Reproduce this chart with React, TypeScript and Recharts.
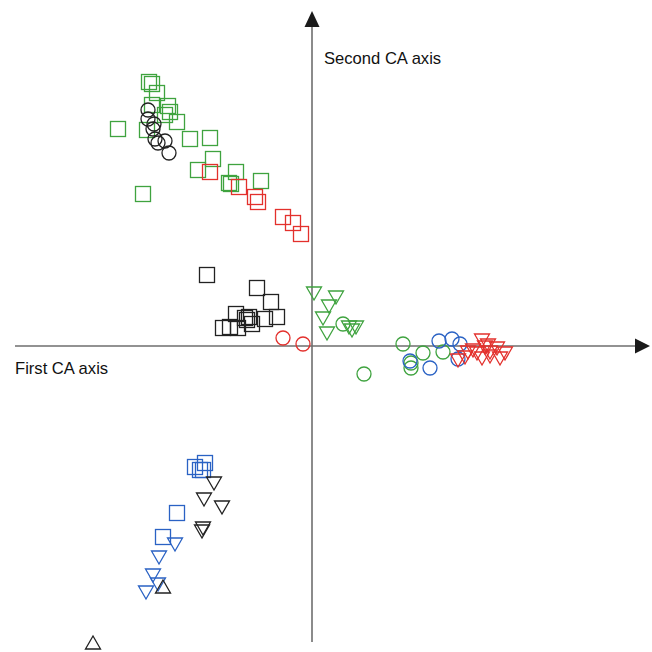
import { ReferenceDot, ReferenceLine, Scatter, ScatterChart, XAxis, YAxis } from 'recharts'

type Pt = [number, number]

// CA scores (first axis, second axis)
const greenSquares: Pt[] = [
  [-1.94, 2.17], [-1.69, 1.52], [-1.63, 2.64], [-1.6, 2.62], [-1.55, 2.53], [-1.6, 2.41],
  [-1.44, 2.4], [-1.47, 2.31], [-1.42, 2.34], [-1.35, 2.24], [-1.65, 2.16], [-1.22, 2.07],
  [-1.02, 2.08], [-0.99, 1.87], [-1.14, 1.76], [-0.76, 1.74], [-0.83, 1.63], [-0.81, 1.62],
  [-0.51, 1.65]
]
const redSquares: Pt[] = [
  [-1.02, 1.74], [-0.73, 1.59], [-0.57, 1.49], [-0.54, 1.44], [-0.29, 1.29], [-0.19, 1.23], [-0.11, 1.12]
]
const blackCircles: Pt[] = [
  [-1.64, 2.36], [-1.64, 2.27], [-1.58, 2.22], [-1.59, 2.17], [-1.57, 2.07], [-1.54, 2.03],
  [-1.47, 2.05], [-1.43, 1.93]
]
const blackSquares: Pt[] = [
  [-1.05, 0.71], [-0.55, 0.58], [-0.41, 0.44], [-0.76, 0.32], [-0.35, 0.29], [-0.63, 0.29],
  [-0.67, 0.28], [-0.47, 0.27], [-0.89, 0.18], [-0.82, 0.19], [-0.74, 0.18], [-0.6, 0.22], [-0.65, 0.26]
]
const redCircles: Pt[] = [[-0.29, 0.08], [-0.09, 0.02]]
const greenTriangles: Pt[] = [
  [0.02, 0.53], [0.24, 0.49], [0.17, 0.4], [0.11, 0.28], [0.15, 0.13], [0.37, 0.19], [0.44, 0.19], [0.4, 0.16]
]
const greenCircles: Pt[] = [
  [0.31, 0.22], [0.91, 0.02], [1.11, -0.07], [1.31, -0.06], [0.99, -0.17], [0.99, -0.22], [0.52, -0.28]
]
const blueCircles: Pt[] = [
  [1.27, 0.05], [1.4, 0.07], [1.48, 0.02], [0.98, -0.15], [1.18, -0.22], [1.46, -0.13]
]
const redTriangles: Pt[] = [
  [1.7, 0.06], [1.76, 0.01], [1.56, -0.06], [1.65, -0.07], [1.78, -0.06], [1.85, -0.02], [1.93, -0.07],
  [1.46, -0.14], [1.53, -0.11], [1.7, -0.12], [1.88, -0.12], [1.78, -0.1], [1.61, -0.04], [1.73, -0.01]
]
const blueSquares: Pt[] = [
  [-1.17, -1.21], [-1.07, -1.17], [-1.12, -1.24], [-1.09, -1.24], [-1.35, -1.67], [-1.49, -1.91]
]
const blueTriangles: Pt[] = [
  [-1.37, -1.98], [-1.53, -2.11], [-1.59, -2.29], [-1.54, -2.38], [-1.66, -2.46]
]
const blackTriangles: Pt[] = [
  [-0.98, -1.37], [-1.08, -1.53], [-0.9, -1.61], [-1.09, -1.82], [-1.1, -1.85]
]
const blackTrianglesUp: Pt[] = [[-1.49, -2.41], [-2.19, -2.97]]

const GREEN = '#3fa33f'
const RED = '#e3302c'
const BLUE = '#2a62c4'
const BLACK = '#222222'
const AXIS = '#6e6e6e'

const toPoints = (pts: Pt[]) => pts.map(([x, y]) => ({ x, y }))

function makeShape(kind: 'square' | 'circle' | 'down' | 'up', color: string) {
  return (props: any) => {
    const { cx, cy } = props
    const common = { fill: 'none', stroke: color, strokeWidth: 1.3 }
    if (kind === 'square') return <rect x={cx - 7.5} y={cy - 7.5} width={15} height={15} {...common} />
    if (kind === 'circle') return <circle cx={cx} cy={cy} r={7} {...common} />
    if (kind === 'down')
      return <path d={`M${cx - 7.5},${cy - 6} L${cx + 7.5},${cy - 6} L${cx},${cy + 7} Z`} {...common} />
    return <path d={`M${cx - 7.5},${cy + 6} L${cx + 7.5},${cy + 6} L${cx},${cy - 7} Z`} {...common} />
  }
}

const series: { name: string; data: Pt[]; kind: 'square' | 'circle' | 'down' | 'up'; color: string }[] = [
  { name: 'greenSquares', data: greenSquares, kind: 'square', color: GREEN },
  { name: 'redSquares', data: redSquares, kind: 'square', color: RED },
  { name: 'blackCircles', data: blackCircles, kind: 'circle', color: BLACK },
  { name: 'blackSquares', data: blackSquares, kind: 'square', color: BLACK },
  { name: 'redCircles', data: redCircles, kind: 'circle', color: RED },
  { name: 'greenTriangles', data: greenTriangles, kind: 'down', color: GREEN },
  { name: 'greenCircles', data: greenCircles, kind: 'circle', color: GREEN },
  { name: 'blueCircles', data: blueCircles, kind: 'circle', color: BLUE },
  { name: 'redTriangles', data: redTriangles, kind: 'down', color: RED },
  { name: 'blueSquares', data: blueSquares, kind: 'square', color: BLUE },
  { name: 'blueTriangles', data: blueTriangles, kind: 'down', color: BLUE },
  { name: 'blackTriangles', data: blackTriangles, kind: 'down', color: BLACK },
  { name: 'blackTrianglesUp', data: blackTrianglesUp, kind: 'up', color: BLACK }
]

const labelStyle = { fontFamily: '"Liberation Sans", Arial, sans-serif', fontSize: 16.6, fill: '#111' }

export default function App() {
  return (
    <div style={{ position: 'absolute', left: 0, top: 0, width: 652, height: 652, background: '#fff' }}>
      <ScatterChart width={652} height={652} margin={{ top: 0, right: 0, bottom: 0, left: 0 }}>
        <XAxis type="number" dataKey="x" domain={[-3.12, 3.4]} hide />
        <YAxis type="number" dataKey="y" domain={[-3.06, 3.46]} hide />
        <ReferenceLine
          segment={[{ x: -2.97, y: 0 }, { x: 3.26, y: 0 }]}
          stroke={AXIS}
          strokeWidth={1.6}
          ifOverflow="visible"
        />
        <ReferenceLine
          segment={[{ x: 0, y: -2.96 }, { x: 0, y: 3.2 }]}
          stroke={AXIS}
          strokeWidth={1.6}
          ifOverflow="visible"
        />
        <ReferenceDot
          x={3.38}
          y={0}
          ifOverflow="visible"
          shape={(p: any) => (
            <path d={`M${p.cx},${p.cy} L${p.cx - 15},${p.cy - 7.5} L${p.cx - 15},${p.cy + 7.5} Z`} fill="#1a1a1a" />
          )}
        />
        <ReferenceDot
          x={0}
          y={3.35}
          ifOverflow="visible"
          shape={(p: any) => (
            <path d={`M${p.cx},${p.cy} L${p.cx - 7.5},${p.cy + 16} L${p.cx + 7.5},${p.cy + 16} Z`} fill="#1a1a1a" />
          )}
        />
        <ReferenceDot
          x={0.12}
          y={2.82}
          ifOverflow="visible"
          shape={(p: any) => (
            <text x={p.cx} y={p.cy} style={labelStyle}>Second CA axis</text>
          )}
        />
        <ReferenceDot
          x={-2.97}
          y={-0.275}
          ifOverflow="visible"
          shape={(p: any) => (
            <text x={p.cx} y={p.cy} style={labelStyle}>First CA axis</text>
          )}
        />
        {series.map((s) => (
          <Scatter
            key={s.name}
            name={s.name}
            data={toPoints(s.data)}
            shape={makeShape(s.kind, s.color)}
            isAnimationActive={false}
          />
        ))}
      </ScatterChart>
    </div>
  )
}
